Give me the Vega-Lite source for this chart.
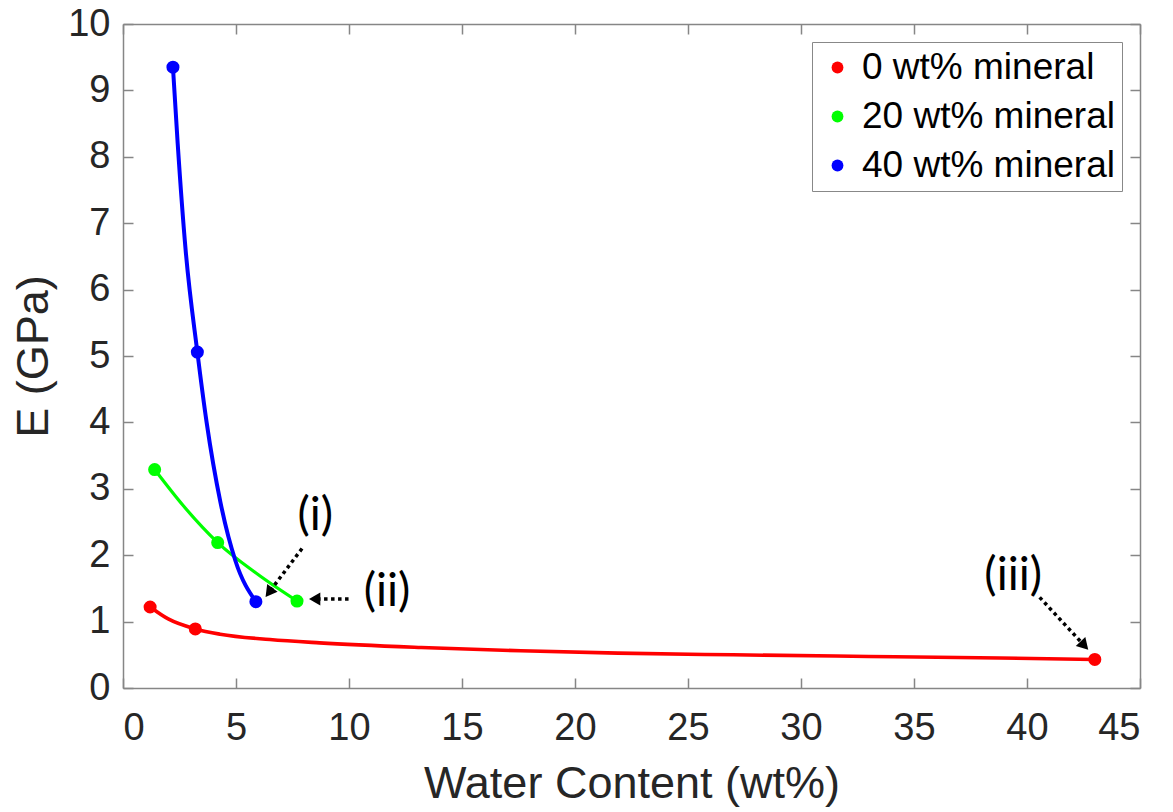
{
  "$schema": "https://vega.github.io/schema/vega-lite/v6.json",
  "width": 1017,
  "height": 664,
  "autosize": {"type": "none"},
  "padding": {"left": 123, "top": 24, "right": 33, "bottom": 124},
  "background": "white",
  "config": {
    "view": {"stroke": null},
    "font": "Liberation Sans",
    "axis": {
      "grid": false,
      "domainColor": "#868686",
      "domainWidth": 1.5,
      "tickColor": "#868686",
      "tickWidth": 1.5,
      "tickSize": -10,
      "labelFont": "Liberation Sans",
      "labelFontSize": 38,
      "labelColor": "#262626",
      "titleFont": "Liberation Sans",
      "titleFontSize": 45,
      "titleFontWeight": "normal",
      "titleColor": "#262626"
    }
  },
  "datasets": {
    "curves": [
      {"series": "0 wt% mineral", "x": 1.2, "y": 1.22},
      {"series": "0 wt% mineral", "x": 2.0, "y": 1.04},
      {"series": "0 wt% mineral", "x": 3.2, "y": 0.89},
      {"series": "0 wt% mineral", "x": 4.3, "y": 0.81},
      {"series": "0 wt% mineral", "x": 6.5, "y": 0.73},
      {"series": "0 wt% mineral", "x": 8.7, "y": 0.68},
      {"series": "0 wt% mineral", "x": 13.2, "y": 0.61},
      {"series": "0 wt% mineral", "x": 17.6, "y": 0.56},
      {"series": "0 wt% mineral", "x": 21.9, "y": 0.525},
      {"series": "0 wt% mineral", "x": 27.0, "y": 0.5},
      {"series": "0 wt% mineral", "x": 33.0, "y": 0.475},
      {"series": "0 wt% mineral", "x": 38.8, "y": 0.452},
      {"series": "0 wt% mineral", "x": 43.0, "y": 0.43},
      {"series": "20 wt% mineral", "x": 1.4, "y": 3.29},
      {"series": "20 wt% mineral", "x": 2.68, "y": 2.74},
      {"series": "20 wt% mineral", "x": 4.19, "y": 2.19},
      {"series": "20 wt% mineral", "x": 5.93, "y": 1.72},
      {"series": "20 wt% mineral", "x": 7.7, "y": 1.31},
      {"series": "40 wt% mineral", "x": 2.21, "y": 9.35},
      {"series": "40 wt% mineral", "x": 2.42, "y": 8.2},
      {"series": "40 wt% mineral", "x": 2.77, "y": 6.6},
      {"series": "40 wt% mineral", "x": 3.29, "y": 5.06},
      {"series": "40 wt% mineral", "x": 3.7, "y": 4.0},
      {"series": "40 wt% mineral", "x": 4.31, "y": 2.8},
      {"series": "40 wt% mineral", "x": 4.97, "y": 1.92},
      {"series": "40 wt% mineral", "x": 5.88, "y": 1.3}
    ],
    "pts": [
      {"series": "0 wt% mineral", "x": 1.2, "y": 1.22},
      {"series": "0 wt% mineral", "x": 3.2, "y": 0.89},
      {"series": "0 wt% mineral", "x": 43.0, "y": 0.43},
      {"series": "20 wt% mineral", "x": 1.4, "y": 3.29},
      {"series": "20 wt% mineral", "x": 4.19, "y": 2.19},
      {"series": "20 wt% mineral", "x": 7.7, "y": 1.31},
      {"series": "40 wt% mineral", "x": 2.21, "y": 9.35},
      {"series": "40 wt% mineral", "x": 3.29, "y": 5.06},
      {"series": "40 wt% mineral", "x": 5.88, "y": 1.3}
    ],
    "notes": [
      {"label": "(i)", "tx": 8.51, "ty": 2.59, "ax": 7.92, "ay": 2.1, "hx": 6.46, "hy": 1.44},
      {"label": "(ii)", "tx": 11.68, "ty": 1.445, "ax": 9.98, "ay": 1.34, "hx": 8.48, "hy": 1.34},
      {"label": "(iii)", "tx": 39.39, "ty": 1.685, "ax": 40.56, "ay": 1.365, "hx": 42.54, "hy": 0.638}
    ]
  },
  "resolve": {"axis": {"x": "independent", "y": "independent"}},
  "layer": [
    {
      "data": {"name": "pts"},
      "mark": {"type": "point", "opacity": 0},
      "encoding": {
        "x": {"field": "x", "type": "quantitative", "scale": {"domain": [0, 45], "nice": false},
              "axis": {"orient": "bottom", "values": [0, 5, 10, 15, 20, 25, 30, 35, 40, 45], "title": "Water Content (wt%)", "labelPadding": 31, "titlePadding": 14}},
        "y": {"field": "y", "type": "quantitative", "scale": {"domain": [0, 10], "nice": false},
              "axis": {"orient": "left", "values": [0, 1, 2, 3, 4, 5, 6, 7, 8, 9, 10], "title": "E (GPa)", "labelPadding": 23, "titlePadding": 11}}
      }
    },
    {
      "data": {"name": "pts"},
      "mark": {"type": "point", "opacity": 0},
      "encoding": {
        "x": {"field": "x", "type": "quantitative", "axis": {"orient": "top", "values": [0, 5, 10, 15, 20, 25, 30, 35, 40, 45], "labels": false, "title": null}},
        "y": {"field": "y", "type": "quantitative", "axis": {"orient": "right", "values": [0, 1, 2, 3, 4, 5, 6, 7, 8, 9, 10], "labels": false, "title": null}}
      }
    },
    {
      "data": {"name": "curves"},
      "transform": [{"filter": "datum.series === '0 wt% mineral'"}],
      "mark": {"type": "line", "interpolate": "monotone", "strokeWidth": 3.6, "color": "#ff0000"},
      "encoding": {
        "x": {"field": "x", "type": "quantitative", "axis": null},
        "y": {"field": "y", "type": "quantitative", "axis": null}
      }
    },
    {
      "data": {"name": "curves"},
      "transform": [{"filter": "datum.series === '20 wt% mineral'"}],
      "mark": {"type": "line", "interpolate": "monotone", "strokeWidth": 3.2, "color": "#00ff00"},
      "encoding": {
        "x": {"field": "x", "type": "quantitative", "axis": null},
        "y": {"field": "y", "type": "quantitative", "axis": null}
      }
    },
    {
      "data": {"name": "curves"},
      "transform": [{"filter": "datum.series === '40 wt% mineral'"}],
      "mark": {"type": "line", "interpolate": "monotone", "strokeWidth": 4, "color": "#0000ff"},
      "encoding": {
        "x": {"field": "x", "type": "quantitative", "axis": null},
        "y": {"field": "y", "type": "quantitative", "axis": null}
      }
    },
    {
      "data": {"name": "pts"},
      "mark": {"type": "point", "shape": "circle", "filled": true, "opacity": 1, "size": 170},
      "encoding": {
        "x": {"field": "x", "type": "quantitative", "axis": null},
        "y": {"field": "y", "type": "quantitative", "axis": null},
        "color": {"field": "series", "type": "nominal",
                  "scale": {"domain": ["0 wt% mineral", "20 wt% mineral", "40 wt% mineral"], "range": ["#ff0000", "#00ff00", "#0000ff"]},
                  "legend": {"orient": "none", "legendX": 689, "legendY": 18, "title": null, "padding": 7,
                             "strokeColor": "#888888", "fillColor": "white",
                             "labelFont": "Liberation Sans", "labelFontSize": 37, "labelColor": "#000000", "labelLimit": 400,
                             "symbolSize": 140, "symbolType": "circle", "rowPadding": 11, "labelOffset": 6, "symbolOffset": 0,
                             "symbolStrokeWidth": 0, "symbolOpacity": 1}}
      }
    },
    {
      "data": {"name": "notes"},
      "mark": {"type": "rule", "color": "black", "strokeWidth": 3.5, "strokeDash": [3.5, 3.5]},
      "encoding": {
        "x": {"field": "ax", "type": "quantitative", "axis": null},
        "y": {"field": "ay", "type": "quantitative", "axis": null},
        "x2": {"field": "hx"},
        "y2": {"field": "hy"}
      }
    },
    {
      "data": {"name": "notes"},
      "transform": [{"filter": "datum.label === '(i)'"}],
      "mark": {"type": "point", "shape": "triangle-up", "filled": true, "color": "black", "opacity": 1, "size": 170, "angle": 217},
      "encoding": {
        "x": {"field": "hx", "type": "quantitative", "axis": null},
        "y": {"field": "hy", "type": "quantitative", "axis": null}
      }
    },
    {
      "data": {"name": "notes"},
      "transform": [{"filter": "datum.label === '(ii)'"}],
      "mark": {"type": "point", "shape": "triangle-up", "filled": true, "color": "black", "opacity": 1, "size": 170, "angle": 270},
      "encoding": {
        "x": {"field": "hx", "type": "quantitative", "axis": null},
        "y": {"field": "hy", "type": "quantitative", "axis": null}
      }
    },
    {
      "data": {"name": "notes"},
      "transform": [{"filter": "datum.label === '(iii)'"}],
      "mark": {"type": "point", "shape": "triangle-up", "filled": true, "color": "black", "opacity": 1, "size": 170, "angle": 137},
      "encoding": {
        "x": {"field": "hx", "type": "quantitative", "axis": null},
        "y": {"field": "hy", "type": "quantitative", "axis": null}
      }
    },
    {
      "data": {"name": "notes"},
      "mark": {"type": "text", "font": "Lato", "fontSize": 46, "color": "black", "align": "center", "baseline": "middle"},
      "encoding": {
        "x": {"field": "tx", "type": "quantitative", "axis": null},
        "y": {"field": "ty", "type": "quantitative", "axis": null},
        "text": {"field": "label"}
      }
    }
  ]
}
